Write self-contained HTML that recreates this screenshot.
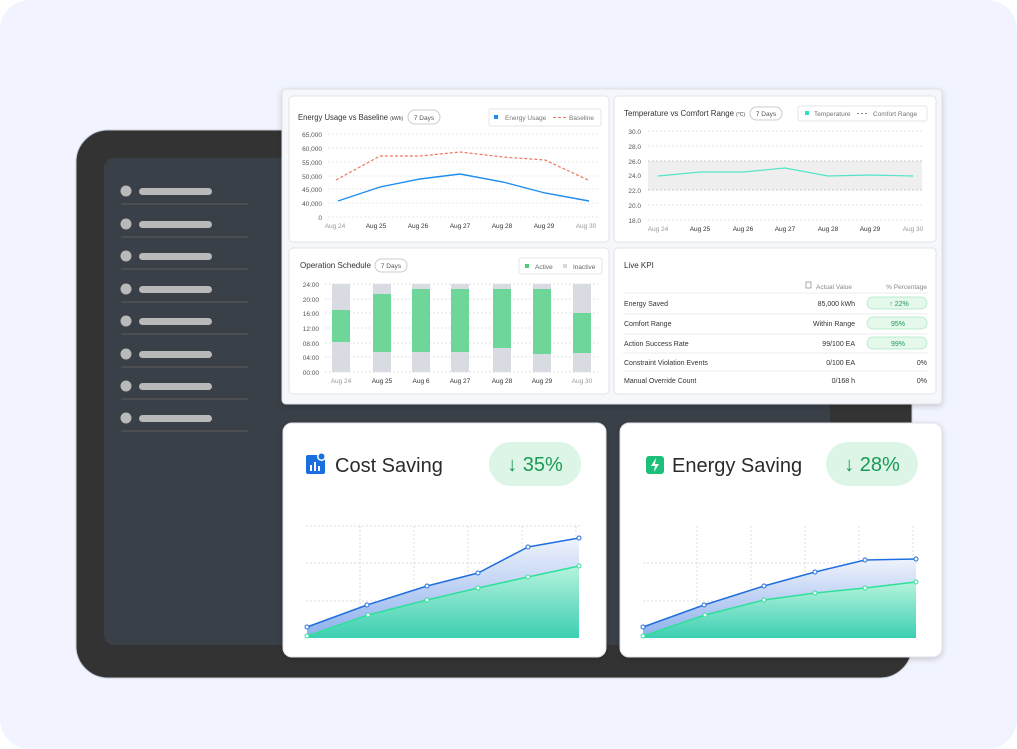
<!DOCTYPE html>
<html><head><meta charset="utf-8"><style>
html,body{margin:0;padding:0;background:#fff}
svg{display:block;font-family:"Liberation Sans",sans-serif}
</style></head><body>
<svg width="1017" height="749" viewBox="0 0 1017 749" xmlns="http://www.w3.org/2000/svg">
<defs>
<linearGradient id="gb" x1="0" y1="0" x2="0" y2="1"><stop offset="0" stop-color="#eef2fb"/><stop offset="1" stop-color="#7fa6ea"/></linearGradient>
<linearGradient id="gg" x1="0" y1="0" x2="0" y2="1"><stop offset="0" stop-color="#b6f3dd"/><stop offset="1" stop-color="#3ccfb2"/></linearGradient>
<filter id="sh" x="-10%" y="-10%" width="120%" height="130%"><feDropShadow dx="0" dy="2" stdDeviation="3" flood-color="#000" flood-opacity="0.18"/></filter>
</defs>
<rect x="0" y="0" width="1017" height="749" rx="30" fill="#f1f4fe"/>
<rect x="76" y="130" width="836" height="548" rx="32" fill="#333333" stroke="#c9ccd6" stroke-width="1"/>
<rect x="104" y="158" width="726" height="487" rx="10" fill="#3a4048"/>
<g fill="#b9b9b9">
<circle cx="126" cy="191" r="5.5"/><rect x="139" y="188" width="73" height="7" rx="3.5"/>
<circle cx="126" cy="224" r="5.5"/><rect x="139" y="221" width="73" height="7" rx="3.5"/>
<circle cx="126" cy="256" r="5.5"/><rect x="139" y="253" width="73" height="7" rx="3.5"/>
<circle cx="126" cy="289" r="5.5"/><rect x="139" y="286" width="73" height="7" rx="3.5"/>
<circle cx="126" cy="321" r="5.5"/><rect x="139" y="318" width="73" height="7" rx="3.5"/>
<circle cx="126" cy="354" r="5.5"/><rect x="139" y="351" width="73" height="7" rx="3.5"/>
<circle cx="126" cy="386" r="5.5"/><rect x="139" y="383" width="73" height="7" rx="3.5"/>
<circle cx="126" cy="418" r="5.5"/><rect x="139" y="415" width="73" height="7" rx="3.5"/>
</g>
<g stroke="#5d5d5d" stroke-width="1">
<line x1="121" y1="204" x2="248" y2="204"/><line x1="121" y1="237" x2="248" y2="237"/><line x1="121" y1="269" x2="248" y2="269"/><line x1="121" y1="302" x2="248" y2="302"/><line x1="121" y1="334" x2="248" y2="334"/><line x1="121" y1="367" x2="248" y2="367"/><line x1="121" y1="399" x2="248" y2="399"/><line x1="121" y1="431" x2="248" y2="431"/>
</g>
<rect x="282" y="89" width="660" height="315" rx="4" fill="#f6f7fa" stroke="#dfe1e8" filter="url(#sh)"/>
<g fill="#fff" stroke="#e1e3ea">
<rect x="289" y="96" width="320" height="146" rx="4"/>
<rect x="614" y="96" width="322" height="146" rx="4"/>
<rect x="289" y="248" width="320" height="146" rx="4"/>
<rect x="614" y="248" width="322" height="146" rx="4"/>
</g>
<text x="298" y="120" font-size="8" fill="#333" textLength="105" lengthAdjust="spacingAndGlyphs">Energy Usage vs Baseline <tspan font-size="5">(kWh)</tspan></text>
<rect x="408" y="110" width="32" height="14" rx="7" fill="#fff" stroke="#ccc"/>
<text x="424" y="120" font-size="6.5" fill="#555" text-anchor="middle">7 Days</text>
<rect x="489" y="109" width="112" height="17" rx="2" fill="#fff" stroke="#e6e6ea"/>
<rect x="494" y="115" width="4" height="4" fill="#1f8cf0"/>
<text x="505" y="120" font-size="6.5" fill="#777">Energy Usage</text>
<line x1="553" y1="117.5" x2="566" y2="117.5" stroke="#f07560" stroke-dasharray="3 2"/>
<text x="569" y="120" font-size="6.5" fill="#777">Baseline</text>
<g stroke="#e8e8e8" stroke-dasharray="2 2"><line x1="328" y1="134" x2="598" y2="134"/><line x1="328" y1="148" x2="598" y2="148"/><line x1="328" y1="162" x2="598" y2="162"/><line x1="328" y1="176" x2="598" y2="176"/><line x1="328" y1="189" x2="598" y2="189"/><line x1="328" y1="203" x2="598" y2="203"/><line x1="328" y1="217" x2="598" y2="217"/></g>
<g font-size="6.5" fill="#555" text-anchor="end"><text x="322" y="137">65,000</text><text x="322" y="151">60,000</text><text x="322" y="165">55,000</text><text x="322" y="179">50,000</text><text x="322" y="192">45,000</text><text x="322" y="206">40,000</text><text x="322" y="220">0</text></g>
<g font-size="6.5" fill="#333" text-anchor="middle"><text x="335" y="228" fill="#999">Aug 24</text><text x="376" y="228">Aug 25</text><text x="418" y="228">Aug 26</text><text x="460" y="228">Aug 27</text><text x="502" y="228">Aug 28</text><text x="544" y="228">Aug 29</text><text x="586" y="228" fill="#999">Aug 30</text></g>
<polyline points="336,180 380,156 420,156 460,152 503,157 545,160 588,180" fill="none" stroke="#f07560" stroke-width="1.2" stroke-dasharray="3 2"/>
<polyline points="338,201 380,187 420,179 460,174 503,182 545,193 589,201" fill="none" stroke="#1f8cf0" stroke-width="1.4"/>
<text x="624" y="116" font-size="8" fill="#333" textLength="121" lengthAdjust="spacingAndGlyphs">Temperature vs Comfort Range <tspan font-size="5">(°C)</tspan></text>
<rect x="750" y="107" width="32" height="13" rx="6.5" fill="#fff" stroke="#ccc"/>
<text x="766" y="116" font-size="6.5" fill="#555" text-anchor="middle">7 Days</text>
<rect x="798" y="106" width="129" height="15" rx="2" fill="#fff" stroke="#e6e6ea"/>
<rect x="805" y="111" width="4" height="4" fill="#2fe0c0"/>
<text x="814" y="116" font-size="6.5" fill="#777">Temperature</text>
<line x1="857" y1="113.5" x2="869" y2="113.5" stroke="#888" stroke-dasharray="2 2"/>
<text x="873" y="116" font-size="6.5" fill="#777">Comfort Range</text>
<rect x="648" y="161" width="274" height="29" fill="#efefef"/>
<g stroke="#e6e6e6" stroke-dasharray="2 2"><line x1="648" y1="131" x2="922" y2="131"/><line x1="648" y1="146" x2="922" y2="146"/><line x1="648" y1="176" x2="922" y2="176"/><line x1="648" y1="205" x2="922" y2="205"/><line x1="648" y1="220" x2="922" y2="220"/></g>
<g stroke="#c8c8c8" stroke-dasharray="2 2"><line x1="648" y1="161" x2="922" y2="161"/><line x1="648" y1="190" x2="922" y2="190"/></g>
<g font-size="6.5" fill="#555" text-anchor="end"><text x="641" y="134">30.0</text><text x="641" y="149">28.0</text><text x="641" y="164">26.0</text><text x="641" y="178">24.0</text><text x="641" y="193">22.0</text><text x="641" y="208">20.0</text><text x="641" y="223">18.0</text></g>
<g font-size="6.5" fill="#333" text-anchor="middle"><text x="658" y="231" fill="#999">Aug 24</text><text x="700" y="231">Aug 25</text><text x="743" y="231">Aug 26</text><text x="785" y="231">Aug 27</text><text x="828" y="231">Aug 28</text><text x="870" y="231">Aug 29</text><text x="913" y="231" fill="#999">Aug 30</text></g>
<polyline points="658,176 700,172 743,172 785,168 828,176 870,175 913,176" fill="none" stroke="#55e3cb" stroke-width="1.2"/>
<text x="300" y="268" font-size="8" fill="#333" textLength="71" lengthAdjust="spacingAndGlyphs">Operation Schedule</text>
<rect x="375" y="259" width="32" height="13" rx="6.5" fill="#fff" stroke="#ccc"/>
<text x="391" y="268" font-size="6.5" fill="#555" text-anchor="middle">7 Days</text>
<rect x="519" y="258" width="83" height="16" rx="2" fill="#fff" stroke="#e6e6ea"/>
<rect x="525" y="264" width="4" height="4" fill="#4dcc80"/><text x="535" y="269" font-size="6.5" fill="#666">Active</text>
<rect x="563" y="264" width="4" height="4" fill="#d5d7df"/><text x="573" y="269" font-size="6.5" fill="#666">Inactive</text>
<g stroke="#e2e2e2" stroke-dasharray="2 2"><line x1="325" y1="284" x2="598" y2="284"/><line x1="325" y1="299" x2="598" y2="299"/><line x1="325" y1="313" x2="598" y2="313"/><line x1="325" y1="328" x2="598" y2="328"/><line x1="325" y1="343" x2="598" y2="343"/><line x1="325" y1="357" x2="598" y2="357"/><line x1="325" y1="372" x2="598" y2="372"/></g>
<g font-size="6.5" fill="#555" text-anchor="end"><text x="319" y="287">24:00</text><text x="319" y="302">20:00</text><text x="319" y="316">16:00</text><text x="319" y="331">12:00</text><text x="319" y="346">08:00</text><text x="319" y="360">04:00</text><text x="319" y="375">00:00</text></g>
<g fill="#d9dbe3"><rect x="332" y="284" width="18" height="88"/><rect x="373" y="284" width="18" height="88"/><rect x="412" y="284" width="18" height="88"/><rect x="451" y="284" width="18" height="88"/><rect x="493" y="284" width="18" height="88"/><rect x="533" y="284" width="18" height="88"/><rect x="573" y="284" width="18" height="88"/></g>
<g fill="#6dd698"><rect x="332" y="310" width="18" height="32"/><rect x="373" y="294" width="18" height="58"/><rect x="412" y="289" width="18" height="63"/><rect x="451" y="289" width="18" height="63"/><rect x="493" y="289" width="18" height="59"/><rect x="533" y="289" width="18" height="65"/><rect x="573" y="313" width="18" height="40"/></g>
<g font-size="6.5" fill="#333" text-anchor="middle"><text x="341" y="383" fill="#999">Aug 24</text><text x="382" y="383">Aug 25</text><text x="421" y="383">Aug 6</text><text x="460" y="383">Aug 27</text><text x="502" y="383">Aug 28</text><text x="542" y="383">Aug 29</text><text x="582" y="383" fill="#999">Aug 30</text></g>
<text x="624" y="268" font-size="8" fill="#333">Live KPI</text>
<rect x="806" y="282" width="5" height="6" fill="none" stroke="#888" stroke-width="0.7"/>
<text x="852" y="289" font-size="6.5" fill="#888" text-anchor="end">Actual Value</text>
<text x="927" y="289" font-size="6.5" fill="#888" text-anchor="end">% Percentage</text>
<g stroke="#ececec"><line x1="623" y1="293" x2="928" y2="293"/><line x1="623" y1="314" x2="928" y2="314"/><line x1="623" y1="334" x2="928" y2="334"/><line x1="623" y1="353" x2="928" y2="353"/><line x1="623" y1="371" x2="928" y2="371"/></g>
<g font-size="7" fill="#333"><text x="624" y="306">Energy Saved</text><text x="624" y="326">Comfort Range</text><text x="624" y="346">Action Success Rate</text><text x="624" y="365">Constraint Violation Events</text><text x="624" y="383">Manual Override Count</text></g>
<g font-size="7" fill="#333" text-anchor="end"><text x="855" y="306">85,000 kWh</text><text x="855" y="326">Within Range</text><text x="855" y="346">99/100 EA</text><text x="855" y="365">0/100 EA</text><text x="855" y="383">0/168 h</text></g>
<g fill="#e4f8ec" stroke="#a8e6c0" stroke-width="0.7"><rect x="867" y="297" width="60" height="12" rx="6"/><rect x="867" y="317" width="60" height="12" rx="6"/><rect x="867" y="337" width="60" height="12" rx="6"/></g>
<g font-size="7" fill="#1f9a55" text-anchor="middle"><text x="899" y="306">↑ 22%</text><text x="898" y="326">95%</text><text x="898" y="346">99%</text></g>
<g font-size="7" fill="#333" text-anchor="end"><text x="927" y="365">0%</text><text x="927" y="383">0%</text></g>
<rect x="283" y="423" width="323" height="234" rx="9" fill="#fff" stroke="#e0e2e8" filter="url(#sh)"/>
<rect x="620" y="423" width="322" height="234" rx="9" fill="#fff" stroke="#e0e2e8" filter="url(#sh)"/>
<rect x="306" y="455" width="19" height="19" rx="2" fill="#1a6fe0"/>
<rect x="317" y="452" width="9" height="9" rx="4.5" fill="#fff"/><circle cx="321.5" cy="456.5" r="3" fill="#1a6fe0"/>
<g fill="#fff"><rect x="310" y="465" width="2" height="6"/><rect x="314" y="462" width="2" height="9"/><rect x="318" y="466" width="2" height="5"/></g>
<text x="335" y="472" font-size="20" fill="#2b2b2b">Cost Saving</text>
<rect x="489" y="442" width="92" height="44" rx="22" fill="#dcf5e6"/>
<text x="535" y="471" font-size="20" fill="#1a9a55" text-anchor="middle">↓ 35%</text>
<path d="M649 456 h12 a3 3 0 0 1 3 3 v12 a3 3 0 0 1 -3 3 h-12 a3 3 0 0 1 -3 -3 v-12 a3 3 0 0 1 3 -3z" fill="#1cc07a"/>
<path d="M656 458 l-5 8 h4 l-1 6 l5 -8 h-4z" fill="#fff"/>
<text x="672" y="472" font-size="20" fill="#2b2b2b">Energy Saving</text>
<rect x="826" y="442" width="92" height="44" rx="22" fill="#dcf5e6"/>
<text x="872" y="471" font-size="20" fill="#1a9a55" text-anchor="middle">↓ 28%</text>
<g stroke="#dcdde6" stroke-dasharray="2 2">
<line x1="306" y1="526" x2="581" y2="526"/><line x1="306" y1="563" x2="581" y2="563"/><line x1="306" y1="601" x2="581" y2="601"/>
<line x1="360" y1="526" x2="360" y2="638"/><line x1="414" y1="526" x2="414" y2="638"/><line x1="468" y1="526" x2="468" y2="638"/><line x1="522" y1="526" x2="522" y2="638"/><line x1="576" y1="526" x2="576" y2="638"/>
<line x1="643" y1="563" x2="918" y2="563"/><line x1="643" y1="601" x2="918" y2="601"/>
<line x1="697" y1="526" x2="697" y2="638"/><line x1="751" y1="526" x2="751" y2="638"/><line x1="805" y1="526" x2="805" y2="638"/><line x1="859" y1="526" x2="859" y2="638"/><line x1="913" y1="526" x2="913" y2="638"/>
</g>
<polygon points="307,627 367,605 427,586 478,573 528,547 579,538 579,638 307,638" fill="url(#gb)" opacity="0.9"/>
<polygon points="307,636 368,615 427,600 478,588 528,577 579,566 579,638 307,638" fill="url(#gg)"/>
<polyline points="307,627 367,605 427,586 478,573 528,547 579,538" fill="none" stroke="#1f6fe0" stroke-width="1.5"/>
<polyline points="307,636 368,615 427,600 478,588 528,577 579,566" fill="none" stroke="#2fe09a" stroke-width="1.5"/>
<g fill="#fff" stroke="#1f6fe0" stroke-width="1"><circle cx="307" cy="627" r="2"/><circle cx="367" cy="605" r="2"/><circle cx="427" cy="586" r="2"/><circle cx="478" cy="573" r="2"/><circle cx="528" cy="547" r="2"/><circle cx="579" cy="538" r="2"/></g>
<g fill="#fff" stroke="#2fe09a" stroke-width="1"><circle cx="307" cy="636" r="2"/><circle cx="368" cy="615" r="2"/><circle cx="427" cy="600" r="2"/><circle cx="478" cy="588" r="2"/><circle cx="528" cy="577" r="2"/><circle cx="579" cy="566" r="2"/></g>
<polygon points="643,627 704,605 764,586 815,572 865,560 916,559 916,638 643,638" fill="url(#gb)" opacity="0.9"/>
<polygon points="643,636 705,615 764,600 815,593 865,588 916,582 916,638 643,638" fill="url(#gg)"/>
<polyline points="643,627 704,605 764,586 815,572 865,560 916,559" fill="none" stroke="#1f6fe0" stroke-width="1.5"/>
<polyline points="643,636 705,615 764,600 815,593 865,588 916,582" fill="none" stroke="#2fe09a" stroke-width="1.5"/>
<g fill="#fff" stroke="#1f6fe0" stroke-width="1"><circle cx="643" cy="627" r="2"/><circle cx="704" cy="605" r="2"/><circle cx="764" cy="586" r="2"/><circle cx="815" cy="572" r="2"/><circle cx="865" cy="560" r="2"/><circle cx="916" cy="559" r="2"/></g>
<g fill="#fff" stroke="#2fe09a" stroke-width="1"><circle cx="643" cy="636" r="2"/><circle cx="705" cy="615" r="2"/><circle cx="764" cy="600" r="2"/><circle cx="815" cy="593" r="2"/><circle cx="865" cy="588" r="2"/><circle cx="916" cy="582" r="2"/></g>
</svg>
</body></html>
